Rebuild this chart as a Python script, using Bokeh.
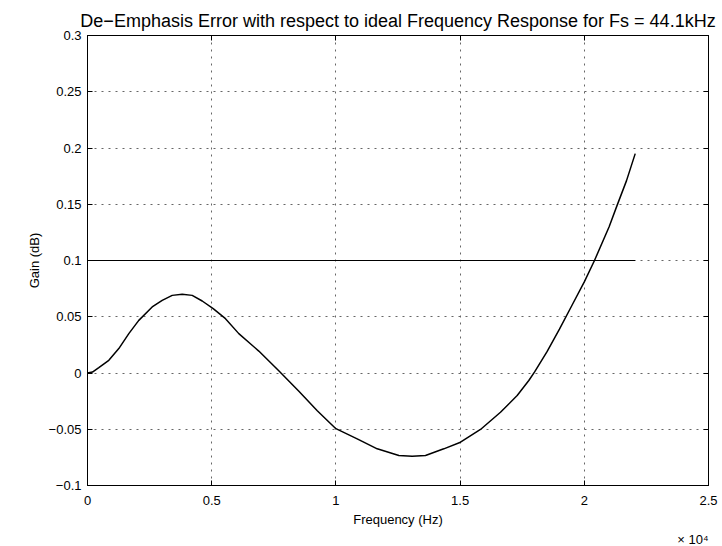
from bokeh.plotting import figure
from bokeh.models import Range1d, FixedTicker, LinearAxis, Title
from bokeh.embed import file_html
from bokeh.resources import INLINE

# Data
freq_hz = [0, 200, 455, 858, 1260, 1663, 2065, 2604, 3007, 3410, 3812, 4215, 4618,
           5060, 5555, 6091, 6896, 7700, 8500, 9250, 10000, 10857, 11663, 12535,
           13070, 13607, 14344, 15016, 15821, 16626, 17298, 17766, 18000, 18500,
           19000, 19500, 20000, 20410, 21000, 21320, 21700, 22050]
gain_db = [0.0, 0.0008, 0.0048, 0.0113, 0.0217, 0.035, 0.0468, 0.0587, 0.0646, 0.069,
           0.070, 0.069, 0.064, 0.0572, 0.0483, 0.035, 0.0195, 0.002, -0.016, -0.0335,
           -0.0495, -0.0585, -0.0674, -0.0733, -0.074, -0.0733, -0.0674, -0.0615,
           -0.0502, -0.0349, -0.02, -0.0067, 0.001, 0.019, 0.039, 0.06, 0.081, 0.1,
           0.13, 0.149, 0.171, 0.195]
limit_x = [0, 22050]
limit_y = [0.1, 0.1]

x_ticks = [0, 5000, 10000, 15000, 20000, 25000]
x_tick_labels = ["0", "0.5", "1", "1.5", "2", "2.5"]
y_ticks = [-0.1, -0.05, 0, 0.05, 0.1, 0.15, 0.2, 0.25, 0.3]
y_tick_labels = ["\u22120.1", "\u22120.05", "0", "0.05", "0.1", "0.15", "0.2", "0.25", "0.3"]
x_scale_text = "\u00d7 10\u2074"

FONT = "Liberation Sans"

p = figure(width=722, height=546, output_backend="svg", toolbar_location=None,
           x_range=Range1d(0, 25000), y_range=Range1d(-0.1, 0.3),
           min_border_left=87, min_border_top=35, min_border_right=14, min_border_bottom=61,
           title="De\u2212Emphasis Error with respect to ideal Frequency Response for Fs = 44.1kHz")
p.title.align = "center"
p.title.text_font = FONT
p.title.text_font_size = "18px"
p.title.text_font_style = "normal"
p.title.text_color = "black"
p.outline_line_color = "black"
p.outline_line_alpha = 1.0

p.line(freq_hz, gain_db, line_color="black", line_width=1.5)
p.line(limit_x, limit_y, line_color="black", line_width=1.2)

xt = FixedTicker(ticks=x_ticks)
yt = FixedTicker(ticks=y_ticks)

def style_axis(ax, ticker, labels, show_labels=True):
    ax.ticker = ticker
    ax.major_tick_in = 5
    ax.major_tick_out = 0
    ax.minor_tick_line_color = None
    ax.axis_line_color = "black"
    ax.major_tick_line_color = "black"
    ax.major_label_text_font = FONT
    ax.major_label_text_font_size = "13px"
    ax.major_label_text_color = "black"
    ax.axis_label_text_font = FONT
    ax.axis_label_text_font_size = "13px"
    ax.axis_label_text_font_style = "normal"
    ax.axis_label_text_color = "black"
    if show_labels:
        ax.major_label_overrides = {t: l for t, l in zip(ticker.ticks, labels)}
    else:
        ax.major_label_overrides = {t: "" for t in ticker.ticks}
        ax.major_label_standoff = 0

style_axis(p.xaxis[0], xt, x_tick_labels)
style_axis(p.yaxis[0], yt, y_tick_labels)
p.xaxis[0].axis_label = "Frequency (Hz)"
p.xaxis[0].axis_label_standoff = 4
p.xaxis[0].major_label_standoff = 10
p.yaxis[0].axis_label = "Gain (dB)"
p.yaxis[0].major_label_standoff = 6
p.yaxis[0].axis_label_standoff = 4

top_ax = LinearAxis()
right_ax = LinearAxis()
style_axis(top_ax, xt, x_tick_labels, show_labels=False)
style_axis(right_ax, yt, y_tick_labels, show_labels=False)
top_ax.major_label_text_font_size = "0px"
right_ax.major_label_text_font_size = "0px"
p.add_layout(top_ax, "above")
p.add_layout(right_ax, "right")

p.xgrid.ticker = xt
p.ygrid.ticker = yt
for g in (p.xgrid, p.ygrid):
    g.grid_line_color = "#666666"
    g.grid_line_dash = "2 5"
    g.grid_line_width = 1

scale_title = Title(text=x_scale_text, align="right", text_font=FONT,
                    text_font_size="13px", text_font_style="normal",
                    text_color="black", standoff=0, offset=0)
p.add_layout(scale_title, "below")

p.background_fill_color = "white"
p.border_fill_color = "white"

open("out.html", "w").write(file_html(p, INLINE))
